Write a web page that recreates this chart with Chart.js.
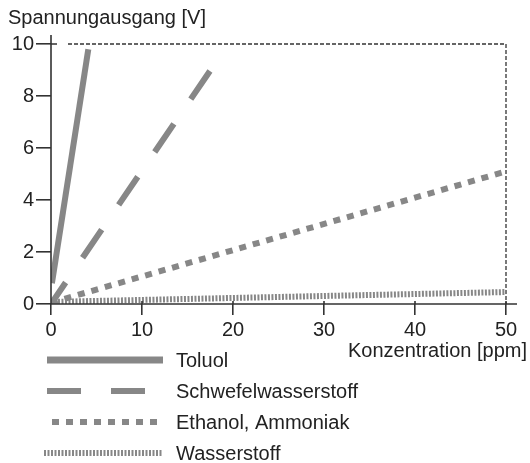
<!DOCTYPE html>
<html>
<head>
<meta charset="utf-8">
<script src="https://cdn.jsdelivr.net/npm/chart.js@4"></script>
<style>
  html, body { margin: 0; padding: 0; background: #fff; }
  #wrap { width: 530px; height: 463px; }
</style>
</head>
<body>
<div id="wrap"><canvas id="sensorChart" width="530" height="463"></canvas></div>
<script>
// Sensor output vs. concentration

const seriesNames = ['Toluol', 'Schwefelwasserstoff', 'Ethanol, Ammoniak', 'Wasserstoff'];
const toluolX = [0.1, 4.1];
const toluolY = [0.8, 9.8];
const schwefelX = [0, 19.3];
const schwefelY = [0, 9.9];
const ethanolX = [0, 50];
const ethanolY = [0.05, 5.1];
const wasserstoffX = [0, 50];
const wasserstoffY = [0.08, 0.46];
const xTicks = [0, 10, 20, 30, 40, 50];
const yTicks = [0, 2, 4, 6, 8, 10];

const FONT = '"Liberation Sans", Arial, sans-serif';
const grey = '#878787';
const ink = '#222';

function toPoints(xs, ys) {
    return xs.map((x, i) => ({ x: x, y: ys[i] }));
}

const lineStyles = [
    { borderWidth: 6, borderDash: [], offset: 0 },
    { borderWidth: 6, borderDash: [34, 30], offset: 8 },
    { borderWidth: 6, borderDash: [7, 7], offset: 0 },
    { borderWidth: 6, borderDash: [2, 1.5], offset: 0 }
];

const allX = [toluolX, schwefelX, ethanolX, wasserstoffX];
const allY = [toluolY, schwefelY, ethanolY, wasserstoffY];

const datasets = seriesNames.map((name, i) => ({
    label: name,
    data: toPoints(allX[i], allY[i]),
    borderColor: grey,
    backgroundColor: grey,
    borderWidth: lineStyles[i].borderWidth,
    borderDash: lineStyles[i].borderDash,
    borderDashOffset: lineStyles[i].offset,
    borderCapStyle: 'butt',
    pointRadius: 0,
    fill: false,
    tension: 0
}));

// axes, dashed frame, axis titles and legend
const decorations = {
    id: 'decorations',
    beforeDatasetsDraw(chart) {
        const ctx = chart.ctx;
        const a = chart.chartArea;
        ctx.save();
        // dashed frame on top and right
        ctx.strokeStyle = '#333';
        ctx.lineWidth = 1.3;
        ctx.setLineDash([4, 2]);
        ctx.beginPath();
        ctx.moveTo(a.left + 17, a.top);
        ctx.lineTo(a.right, a.top);
        ctx.lineTo(a.right, a.bottom);
        ctx.stroke();
        ctx.restore();
    },
    afterDatasetsDraw(chart) {
        const ctx = chart.ctx;
        const a = chart.chartArea;
        ctx.save();
        // solid axes, slightly extended
        ctx.strokeStyle = '#333';
        ctx.lineWidth = 1.6;
        ctx.beginPath();
        ctx.moveTo(a.left, a.top - 9);
        ctx.lineTo(a.left, a.bottom);
        ctx.lineTo(a.right + 11, a.bottom);
        ctx.stroke();
        // short tick parts above the x axis
        const xs = chart.scales.x;
        ctx.beginPath();
        xTicks.slice(1).forEach(v => {
            const px = xs.getPixelForValue(v);
            ctx.moveTo(px, a.bottom - 3);
            ctx.lineTo(px, a.bottom);
        });
        ctx.moveTo(a.left, a.top);
        ctx.lineTo(a.left + 6, a.top);
        ctx.stroke();

        ctx.fillStyle = ink;
        ctx.font = '20px ' + FONT;
        ctx.textBaseline = 'middle';
        ctx.textAlign = 'left';
        ctx.fillText('Spannungausgang [V]', 8, 18);
        ctx.textAlign = 'right';
        ctx.fillText('Konzentration [ppm]', 527, 351);

        // legend
        const rows = [360, 391, 422, 453];
        const starts = [47, 47, 52, 44];
        chart.data.datasets.forEach((ds, i) => {
            const y = rows[i];
            ctx.strokeStyle = ds.borderColor;
            ctx.lineWidth = i === 0 ? 7 : ds.borderWidth;
            ctx.setLineDash(ds.borderDash);
            ctx.beginPath();
            ctx.moveTo(starts[i], y);
            ctx.lineTo(163, y);
            ctx.stroke();
            ctx.setLineDash([]);
            ctx.fillStyle = ink;
            ctx.textAlign = 'left';
            ctx.fillText(ds.label, 176, y + 1);
        });
        ctx.restore();
    }
};

new Chart(document.getElementById('sensorChart'), {
    type: 'line',
    data: { datasets: datasets },
    options: {
        responsive: false,
        animation: false,
        layout: { padding: { top: 44, right: 24, left: 0, bottom: 0 } },
        plugins: {
            legend: { display: false },
            tooltip: { enabled: false }
        },
        scales: {
            x: {
                type: 'linear',
                min: 0,
                max: 50,
                afterFit: s => { s.height = 159; },
                afterBuildTicks: s => { s.ticks = xTicks.map(v => ({ value: v })); },
                border: { display: false },
                grid: { drawOnChartArea: false, drawTicks: true, tickLength: 11, color: '#333', lineWidth: 1.6 },
                ticks: { color: ink, font: { family: FONT, size: 20 }, padding: 3, maxRotation: 0 }
            },
            y: {
                min: 0,
                max: 10,
                afterFit: s => { s.width = 51; },
                afterBuildTicks: s => { s.ticks = yTicks.map(v => ({ value: v })); },
                border: { display: false },
                grid: { drawOnChartArea: false, drawTicks: true, tickLength: 15, color: '#333', lineWidth: 1.6 },
                ticks: { color: ink, font: { family: FONT, size: 20 }, padding: 2 }
            }
        }
    },
    plugins: [decorations]
});
</script>
</body>
</html>
